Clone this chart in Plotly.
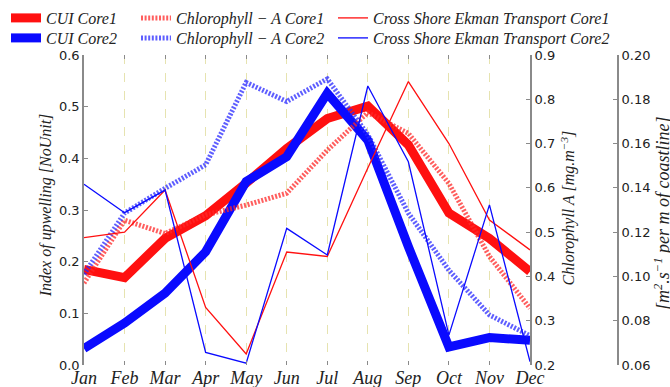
import plotly.graph_objects as go

months = ["Jan", "Feb", "Mar", "Apr", "May", "Jun", "Jul", "Aug", "Sep", "Oct", "Nov", "Dec"]

cui_core1 = [0.185, 0.169, 0.245, 0.289, 0.352, 0.419, 0.477, 0.501, 0.426, 0.294, 0.245, 0.181]
cui_core2 = [0.032, 0.081, 0.139, 0.219, 0.355, 0.403, 0.526, 0.435, 0.229, 0.035, 0.053, 0.048]

chl_core1 = [0.385, 0.527, 0.497, 0.539, 0.561, 0.588, 0.685, 0.770, 0.723, 0.610, 0.445, 0.328]
chl_core2 = [0.405, 0.543, 0.599, 0.652, 0.838, 0.795, 0.846, 0.720, 0.543, 0.414, 0.313, 0.266]

ekman_core1 = [0.1175, 0.120, 0.139, 0.086, 0.065, 0.111, 0.109, 0.149, 0.188, 0.160, 0.1255, 0.112]
ekman_core2 = [0.1416, 0.1288, 0.139, 0.0657, 0.0608, 0.1217, 0.1097, 0.186, 0.1518, 0.0735, 0.1323, 0.0615]

left_ticks = [0.0, 0.1, 0.2, 0.3, 0.4, 0.5, 0.6]
chl_ticks = [0.2, 0.3, 0.4, 0.5, 0.6, 0.7, 0.8, 0.9]
ek_ticks = [0.06, 0.08, 0.10, 0.12, 0.14, 0.16, 0.18, 0.20]

W, H = 670, 387
ML, MR, MT, MB = 84, 52, 55, 22
PW = W - ML - MR  # paper width
PH = H - MT - MB  # paper height
PLOT_RIGHT = 530  # right edge of main plot, px


def px(xp):
    return (xp - ML) / PW


def py(yp):
    return (H - MB - yp) / PH


serif = "Liberation Serif"
sans = "DejaVu Sans"
RED = "#ff1010"
BLUE = "#0a0aff"
DOT = "2px,1.6px"

fig = go.Figure()

fig.add_trace(go.Scatter(x=months, y=chl_core1, mode="lines", name="Chlorophyll − A Core1",
                         line=dict(color="rgba(255,40,40,0.75)", width=5, dash=DOT),
                         yaxis="y2", legend="legend3"))
fig.add_trace(go.Scatter(x=months, y=chl_core2, mode="lines", name="Chlorophyll − A Core2",
                         line=dict(color="rgba(40,40,255,0.75)", width=5, dash=DOT),
                         yaxis="y2", legend="legend4"))
fig.add_trace(go.Scatter(x=months, y=ekman_core1, mode="lines", name="Cross Shore Ekman Transport Core1",
                         line=dict(color=RED, width=1.3), yaxis="y3", legend="legend5"))
fig.add_trace(go.Scatter(x=months, y=ekman_core2, mode="lines", name="Cross Shore Ekman Transport Core2",
                         line=dict(color=BLUE, width=1.3), yaxis="y3", legend="legend6"))
fig.add_trace(go.Scatter(x=months, y=cui_core1, mode="lines", name="CUI Core1",
                         line=dict(color=RED, width=9), legend="legend"))
fig.add_trace(go.Scatter(x=months, y=cui_core2, mode="lines", name="CUI Core2",
                         line=dict(color=BLUE, width=9), legend="legend2"))

legend_font = dict(family=serif, size=16, color="#222", style="italic")


def leg(xpx, ytop):
    return dict(x=px(xpx), xref="paper", xanchor="left",
                y=py(ytop), yref="paper", yanchor="top",
                bgcolor="rgba(0,0,0,0)", font=legend_font, tracegroupgap=0,
                itemwidth=30)


axis_gray = "#8a8a8a"
tick_font = dict(family=sans, size=13, color="#222")
xdom = [0, (PLOT_RIGHT - ML) / PW]

ROW1, ROW2 = 1, 21

fig.update_layout(
    width=W, height=H,
    margin=dict(l=ML, r=MR, t=MT, b=MB, autoexpand=False),
    paper_bgcolor="white", plot_bgcolor="white",
    showlegend=True,
    legend=leg(6, ROW1), legend2=leg(6, ROW2),
    legend3=leg(136, ROW1), legend4=leg(136, ROW2),
    legend5=leg(333, ROW1), legend6=leg(333, ROW2),
    xaxis=dict(type="category", categoryarray=months, range=[0, 11], domain=xdom,
               showgrid=True, gridcolor="#e6e3b0", griddash="dash", gridwidth=1,
               showline=False, zeroline=False,
               ticks="inside", ticklen=4, tickcolor=axis_gray, mirror="ticks",
               tickfont=dict(family=serif, size=18, color="#222", style="italic")),
    yaxis=dict(range=[0, 0.6], tickvals=left_ticks, tickformat=".1f",
               showgrid=False, zeroline=False, showline=True,
               linecolor=axis_gray, linewidth=1.5,
               ticks="inside", ticklen=4, tickcolor=axis_gray,
               tickfont=tick_font),
    yaxis2=dict(overlaying="y", side="right", anchor="x", range=[0.2, 0.9],
                tickvals=chl_ticks, tickformat=".1f",
                showgrid=False, zeroline=False, showline=True,
                linecolor=axis_gray, linewidth=2,
                ticks="inside", ticklen=4, tickcolor=axis_gray,
                tickfont=tick_font),
    yaxis3=dict(overlaying="y", side="right", anchor="free", position=1.0,
                range=[0.06, 0.20], tickvals=ek_ticks, tickformat=".2f",
                showgrid=False, zeroline=False, showline=True,
                linecolor=axis_gray, linewidth=2,
                ticks="inside", ticklen=4, tickcolor=axis_gray,
                tickfont=tick_font),
)

title_font = dict(family=serif, size=16, color="#222", style="italic")
fig.add_annotation(text="Index of upwelling [NoUnit]", xref="paper", yref="paper",
                   x=px(46), y=0.515, textangle=-90, showarrow=False,
                   font=title_font, xanchor="center", yanchor="middle")
fig.add_annotation(text="Chlorophyll A [mg.m<sup>−3</sup>]", xref="paper", yref="paper",
                   x=px(568), y=0.505, textangle=-90, showarrow=False,
                   font=title_font, xanchor="center", yanchor="middle")
fig.add_annotation(text="[m<sup>2</sup>.s<sup>−1</sup> per m of coastline]", xref="paper", yref="paper",
                   x=px(662), y=0.49, textangle=-90, showarrow=False,
                   font=dict(family=serif, size=18, color="#222", style="italic"),
                   xanchor="center", yanchor="middle")

fig.write_html("out.html")
